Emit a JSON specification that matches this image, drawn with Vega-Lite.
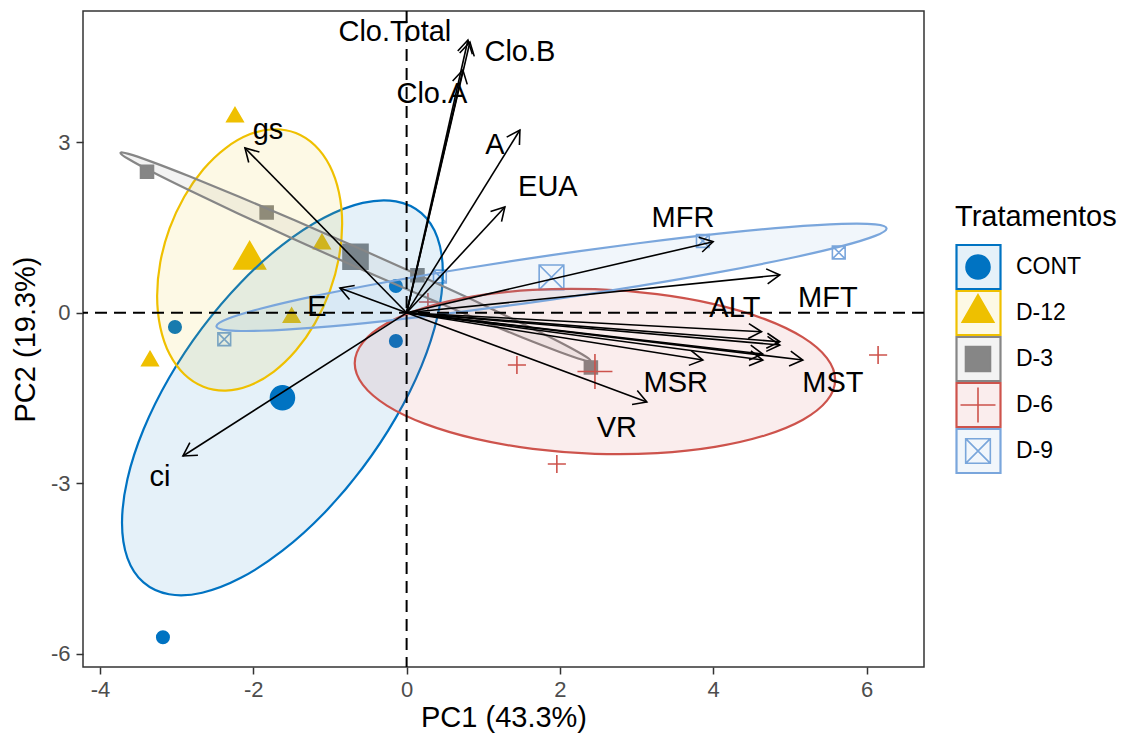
{
"$schema":"https://vega.github.io/schema/vega-lite/v6.json",
"width":841,"height":656,
"autosize":{"type":"none"},
"padding":{"left":83,"top":11,"right":201,"bottom":68},
"background":"white",
"config":{"view":{"stroke":"#333333","strokeWidth":1.5},"font":"Liberation Sans"},
"datasets":{
"pts":[
{"g":"CONT","t":"obs","x":-3.022,"y":-0.25},{"g":"CONT","t":"obs","x":-0.14,"y":0.472},{"g":"CONT","t":"obs","x":-0.14,"y":-0.496},{"g":"CONT","t":"obs","x":-3.179,"y":-5.71},
{"g":"D-12","t":"obs","x":-2.239,"y":3.445},{"g":"D-12","t":"obs","x":-3.348,"y":-0.848},{"g":"D-12","t":"obs","x":-1.105,"y":1.211},{"g":"D-12","t":"obs","x":-1.5,"y":-0.083},
{"g":"D-3","t":"obs","x":-3.387,"y":2.483},{"g":"D-3","t":"obs","x":-1.826,"y":1.765},{"g":"D-3","t":"obs","x":0.141,"y":0.66},{"g":"D-3","t":"obs","x":2.404,"y":-0.963},
{"g":"D-6","t":"obs","x":0.278,"y":0.19},{"g":"D-6","t":"obs","x":1.439,"y":-0.919},{"g":"D-6","t":"obs","x":1.96,"y":-2.661},{"g":"D-6","t":"obs","x":6.151,"y":-0.743},
{"g":"D-9","t":"obs","x":-2.379,"y":-0.466},{"g":"D-9","t":"obs","x":0.434,"y":0.639},{"g":"D-9","t":"obs","x":3.865,"y":1.263},{"g":"D-9","t":"obs","x":5.638,"y":1.061},
{"g":"CONT","t":"mean","x":-1.62,"y":-1.496},{"g":"D-12","t":"mean","x":-2.048,"y":0.931},{"g":"D-3","t":"mean","x":-0.667,"y":0.986},{"g":"D-6","t":"mean","x":2.457,"y":-1.033},{"g":"D-9","t":"mean","x":1.89,"y":0.624}
],
"ell":[
{"g":"CONT","i":0,"x":0.473,"y":0.702},{"g":"CONT","i":1,"x":0.402,"y":1.324},{"g":"CONT","i":2,"x":0.193,"y":1.753},{"g":"CONT","i":3,"x":-0.14,"y":1.961},{"g":"CONT","i":4,"x":-0.573,"y":1.934},{"g":"CONT","i":5,"x":-1.078,"y":1.672},{"g":"CONT","i":6,"x":-1.62,"y":1.195},{"g":"CONT","i":7,"x":-2.162,"y":0.535},{"g":"CONT","i":8,"x":-2.667,"y":-0.265},{"g":"CONT","i":9,"x":-3.1,"y":-1.147},{"g":"CONT","i":10,"x":-3.433,"y":-2.054},{"g":"CONT","i":11,"x":-3.642,"y":-2.923},
{"g":"CONT","i":12,"x":-3.713,"y":-3.694},{"g":"CONT","i":13,"x":-3.642,"y":-4.316},{"g":"CONT","i":14,"x":-3.433,"y":-4.745},{"g":"CONT","i":15,"x":-3.1,"y":-4.953},{"g":"CONT","i":16,"x":-2.667,"y":-4.926},{"g":"CONT","i":17,"x":-2.162,"y":-4.664},{"g":"CONT","i":18,"x":-1.62,"y":-4.187},{"g":"CONT","i":19,"x":-1.078,"y":-3.527},{"g":"CONT","i":20,"x":-0.573,"y":-2.727},{"g":"CONT","i":21,"x":-0.14,"y":-1.845},{"g":"CONT","i":22,"x":0.193,"y":-0.938},{"g":"CONT","i":23,"x":0.402,"y":-0.069},
{"g":"D-12","i":0,"x":-0.841,"y":1.569},{"g":"D-12","i":1,"x":-0.883,"y":2.119},{"g":"D-12","i":2,"x":-1.003,"y":2.588},{"g":"D-12","i":3,"x":-1.195,"y":2.944},{"g":"D-12","i":4,"x":-1.445,"y":3.163},{"g":"D-12","i":5,"x":-1.736,"y":3.23},{"g":"D-12","i":6,"x":-2.048,"y":3.141},{"g":"D-12","i":7,"x":-2.36,"y":2.9},{"g":"D-12","i":8,"x":-2.651,"y":2.526},{"g":"D-12","i":9,"x":-2.901,"y":2.043},{"g":"D-12","i":10,"x":-3.093,"y":1.484},{"g":"D-12","i":11,"x":-3.214,"y":0.887},
{"g":"D-12","i":12,"x":-3.255,"y":0.293},{"g":"D-12","i":13,"x":-3.213,"y":-0.257},{"g":"D-12","i":14,"x":-3.093,"y":-0.726},{"g":"D-12","i":15,"x":-2.901,"y":-1.082},{"g":"D-12","i":16,"x":-2.651,"y":-1.301},{"g":"D-12","i":17,"x":-2.36,"y":-1.368},{"g":"D-12","i":18,"x":-2.048,"y":-1.279},{"g":"D-12","i":19,"x":-1.736,"y":-1.038},{"g":"D-12","i":20,"x":-1.445,"y":-0.664},{"g":"D-12","i":21,"x":-1.195,"y":-0.181},{"g":"D-12","i":22,"x":-1.003,"y":0.378},{"g":"D-12","i":23,"x":-0.882,"y":0.975},
{"g":"D-3","i":0,"x":2.399,"y":-0.842},{"g":"D-3","i":1,"x":2.294,"y":-0.734},{"g":"D-3","i":2,"x":1.988,"y":-0.509},{"g":"D-3","i":3,"x":1.501,"y":-0.183},{"g":"D-3","i":4,"x":0.866,"y":0.224},{"g":"D-3","i":5,"x":0.126,"y":0.682},{"g":"D-3","i":6,"x":-0.667,"y":1.161},{"g":"D-3","i":7,"x":-1.46,"y":1.628},{"g":"D-3","i":8,"x":-2.2,"y":2.052},{"g":"D-3","i":9,"x":-2.835,"y":2.402},{"g":"D-3","i":10,"x":-3.322,"y":2.656},{"g":"D-3","i":11,"x":-3.628,"y":2.797},
{"g":"D-3","i":12,"x":-3.733,"y":2.814},{"g":"D-3","i":13,"x":-3.628,"y":2.706},{"g":"D-3","i":14,"x":-3.322,"y":2.481},{"g":"D-3","i":15,"x":-2.835,"y":2.155},{"g":"D-3","i":16,"x":-2.2,"y":1.748},{"g":"D-3","i":17,"x":-1.46,"y":1.29},{"g":"D-3","i":18,"x":-0.667,"y":0.811},{"g":"D-3","i":19,"x":0.126,"y":0.344},{"g":"D-3","i":20,"x":0.866,"y":-0.08},{"g":"D-3","i":21,"x":1.501,"y":-0.43},{"g":"D-3","i":22,"x":1.988,"y":-0.684},{"g":"D-3","i":23,"x":2.294,"y":-0.825},
{"g":"D-6","i":0,"x":5.591,"y":-1.177},{"g":"D-6","i":1,"x":5.484,"y":-0.797},{"g":"D-6","i":2,"x":5.171,"y":-0.433},{"g":"D-6","i":3,"x":4.673,"y":-0.111},{"g":"D-6","i":4,"x":4.024,"y":0.149},{"g":"D-6","i":5,"x":3.268,"y":0.328},{"g":"D-6","i":6,"x":2.457,"y":0.415},{"g":"D-6","i":7,"x":1.646,"y":0.403},{"g":"D-6","i":8,"x":0.89,"y":0.293},{"g":"D-6","i":9,"x":0.241,"y":0.092},{"g":"D-6","i":10,"x":-0.257,"y":-0.185},{"g":"D-6","i":11,"x":-0.57,"y":-0.52},
{"g":"D-6","i":12,"x":-0.677,"y":-0.889},{"g":"D-6","i":13,"x":-0.57,"y":-1.269},{"g":"D-6","i":14,"x":-0.257,"y":-1.633},{"g":"D-6","i":15,"x":0.241,"y":-1.955},{"g":"D-6","i":16,"x":0.89,"y":-2.215},{"g":"D-6","i":17,"x":1.646,"y":-2.394},{"g":"D-6","i":18,"x":2.457,"y":-2.481},{"g":"D-6","i":19,"x":3.268,"y":-2.469},{"g":"D-6","i":20,"x":4.024,"y":-2.359},{"g":"D-6","i":21,"x":4.673,"y":-2.158},{"g":"D-6","i":22,"x":5.171,"y":-1.881},{"g":"D-6","i":23,"x":5.484,"y":-1.546},
{"g":"D-9","i":0,"x":6.262,"y":1.484},{"g":"D-9","i":1,"x":6.113,"y":1.556},{"g":"D-9","i":2,"x":5.677,"y":1.564},{"g":"D-9","i":3,"x":4.982,"y":1.509},{"g":"D-9","i":4,"x":4.076,"y":1.393},{"g":"D-9","i":5,"x":3.022,"y":1.224},{"g":"D-9","i":6,"x":1.89,"y":1.015},{"g":"D-9","i":7,"x":0.758,"y":0.779},{"g":"D-9","i":8,"x":-0.296,"y":0.533},{"g":"D-9","i":9,"x":-1.202,"y":0.293},{"g":"D-9","i":10,"x":-1.897,"y":0.075},{"g":"D-9","i":11,"x":-2.333,"y":-0.106},
{"g":"D-9","i":12,"x":-2.482,"y":-0.236},{"g":"D-9","i":13,"x":-2.333,"y":-0.308},{"g":"D-9","i":14,"x":-1.897,"y":-0.316},{"g":"D-9","i":15,"x":-1.202,"y":-0.261},{"g":"D-9","i":16,"x":-0.296,"y":-0.145},{"g":"D-9","i":17,"x":0.758,"y":0.024},{"g":"D-9","i":18,"x":1.89,"y":0.233},{"g":"D-9","i":19,"x":3.022,"y":0.469},{"g":"D-9","i":20,"x":4.076,"y":0.715},{"g":"D-9","i":21,"x":4.982,"y":0.955},{"g":"D-9","i":22,"x":5.677,"y":1.173},{"g":"D-9","i":23,"x":6.113,"y":1.354}
],
"arr":[
{"v":"Clo.Total","x":0.8,"y":4.8,"a":12.7},{"v":"Clo.B","x":0.826,"y":4.765,"a":13.2},{"v":"Clo.A","x":0.734,"y":4.272,"a":13.05},
{"v":"A","x":1.478,"y":3.217,"a":31.8},{"v":"EUA","x":1.282,"y":1.862,"a":42.9},{"v":"MFR","x":3.999,"y":1.251,"a":76.9},{"v":"MFT","x":4.869,"y":0.665,"a":84.2},
{"v":"ALT","x":4.63,"y":-0.333,"a":93.0},{"v":"R2","x":4.869,"y":-0.509,"a":94.4},{"v":"R3","x":4.869,"y":-0.567,"a":94.9},{"v":"R4","x":4.647,"y":-0.725,"a":96.6},{"v":"R5","x":4.647,"y":-0.831,"a":97.5},
{"v":"MST","x":5.169,"y":-0.831,"a":96.8},{"v":"MSR","x":3.865,"y":-0.831,"a":99.1},{"v":"VR","x":3.134,"y":-1.57,"a":110.4},
{"v":"gs","x":-2.109,"y":2.9,"a":315.5},{"v":"E","x":-0.87,"y":0.436,"a":290.4},{"v":"ci","x":-2.918,"y":-2.52,"a":237.4}
],
"lab":[
{"v":"Clo.Total","x":-0.153,"y":4.94},{"v":"Clo.B","x":1.478,"y":4.59},{"v":"Clo.A","x":0.33,"y":3.85},{"v":"A","x":1.152,"y":2.95},{"v":"EUA","x":1.843,"y":2.21},
{"v":"MFR","x":3.606,"y":1.668},{"v":"MFT","x":5.496,"y":0.26},{"v":"ALT","x":4.282,"y":0.084},{"v":"MSR","x":3.512,"y":-1.235},{"v":"MST","x":5.561,"y":-1.235},
{"v":"VR","x":2.743,"y":-2.027},{"v":"gs","x":-1.809,"y":3.217},{"v":"E","x":-1.17,"y":0.102},{"v":"ci","x":-3.218,"y":-2.89}
]
},
"layer":[
{"data":{"name":"pts"},
 "mark":{"type":"point","strokeWidth":1.6,"opacity":1},
 "encoding":{
  "x":{"field":"x","type":"quantitative","scale":{"domain":[-4.222,6.75],"nice":false,"zero":false},
       "axis":{"values":[-4,-2,0,2,4,6],"labelExpr":"'' + datum.value","title":"PC1 (43.3%)","grid":false,"domain":false,"tickColor":"#333333","tickWidth":1.5,"tickSize":7,"labelFontSize":22,"labelColor":"#4D4D4D","labelPadding":5,"titleFontSize":29,"titleFontWeight":"normal","titleColor":"black","titlePadding":3,"labelFont":"Liberation Sans","titleFont":"Liberation Sans"}},
  "y":{"field":"y","type":"quantitative","scale":{"domain":[-6.233,5.311],"nice":false,"zero":false},
       "axis":{"values":[-6,-3,0,3],"labelExpr":"'' + datum.value","title":"PC2 (19.3%)","grid":false,"domain":false,"tickColor":"#333333","tickWidth":1.5,"tickSize":7,"labelFontSize":22,"labelColor":"#4D4D4D","labelPadding":6,"titleFontSize":29,"titleFontWeight":"normal","titleColor":"black","titlePadding":10,"labelFont":"Liberation Sans","titleFont":"Liberation Sans"}},
  "shape":{"field":"g","type":"nominal","scale":{"domain":["CONT","D-12","D-3","D-6","D-9"],"range":["M0.545,0A0.545,0.545,0,1,1,-0.545,0A0.545,0.545,0,1,1,0.545,0Z","M0,-0.832L0.72,0.416L-0.72,0.416Z","M-0.568,-0.568L0.568,-0.568L0.568,0.568L-0.568,0.568Z","M-0.795,0L0.795,0M0,-0.795L0,0.795","M-0.56,-0.56L0.56,-0.56L0.56,0.56L-0.56,0.56ZM-0.56,-0.56L0.56,0.56M-0.56,0.56L0.56,-0.56"]},
     "legend":{"orient":"none","legendX":872,"legendY":192,"title":"Tratamentos","titleColor":"transparent","labelColor":"transparent","titleFontSize":29,"titleFontWeight":"normal","titleFont":"Liberation Sans","labelFont":"Liberation Sans","labelFontSize":23,"symbolSize":1936,"rowPadding":0,"clipHeight":46,"labelOffset":14,"titlePadding":12,"symbolStrokeWidth":1.6}},
  "stroke":{"field":"g","type":"nominal","scale":{"domain":["CONT","D-12","D-3","D-6","D-9"],"range":["#0073C2","#EFC000","#868686","#CD534C","#7AA6DC"]},
     "legend":{"orient":"none","legendX":872,"legendY":192,"title":"Tratamentos","titleColor":"transparent","labelColor":"transparent","titleFontSize":29,"titleFontWeight":"normal","titleFont":"Liberation Sans","labelFont":"Liberation Sans","labelFontSize":23,"symbolSize":1936,"rowPadding":0,"clipHeight":46,"labelOffset":14,"titlePadding":12,"symbolStrokeWidth":1.6}},
  "fill":{"field":"g","type":"nominal","scale":{"domain":["CONT","D-12","D-3","D-6","D-9"],"range":["#0073C2","#EFC000","#868686","transparent","transparent"]},
     "legend":{"orient":"none","legendX":872,"legendY":192,"title":"Tratamentos","titleColor":"transparent","labelColor":"transparent","titleFontSize":29,"titleFontWeight":"normal","titleFont":"Liberation Sans","labelFont":"Liberation Sans","labelFontSize":23,"symbolSize":1936,"rowPadding":0,"clipHeight":46,"labelOffset":14,"titlePadding":12,"symbolStrokeWidth":1.6}},
  "size":{"field":"t","type":"ordinal","scale":{"domain":["obs","mean"],"range":[520,1936]},"legend":null}
 }},
{"data":{"name":"ell"},
 "mark":{"type":"line","interpolate":"cardinal-closed","fillOpacity":0.1,"strokeWidth":2.2},
 "encoding":{
  "x":{"field":"x","type":"quantitative"},
  "y":{"field":"y","type":"quantitative"},
  "order":{"field":"i","type":"quantitative"},
  "stroke":{"field":"g","type":"nominal","scale":{"domain":["CONT","D-12","D-3","D-6","D-9"],"range":["#0073C2","#EFC000","#868686","#CD534C","#7AA6DC"]},
     "legend":{"orient":"none","legendX":872,"legendY":192,"title":"Tratamentos","titleColor":"black","labelColor":"black","titleFontSize":29,"titleFontWeight":"normal","titleFont":"Liberation Sans","labelFont":"Liberation Sans","labelFontSize":23,"symbolType":"square","symbolSize":1936,"rowPadding":0,"clipHeight":46,"labelOffset":14,"titlePadding":12,"symbolStrokeWidth":2.2,"symbolOpacity":1,"encode":{"symbols":{"update":{"fillOpacity":{"value":0.1},"strokeOpacity":{"value":1}}}}}},
  "fill":{"field":"g","type":"nominal","scale":{"domain":["CONT","D-12","D-3","D-6","D-9"],"range":["#0073C2","#EFC000","#868686","#CD534C","#7AA6DC"]},
     "legend":{"orient":"none","legendX":872,"legendY":192,"title":"Tratamentos","titleColor":"black","labelColor":"black","titleFontSize":29,"titleFontWeight":"normal","titleFont":"Liberation Sans","labelFont":"Liberation Sans","labelFontSize":23,"symbolType":"square","symbolSize":1936,"rowPadding":0,"clipHeight":46,"labelOffset":14,"titlePadding":12,"symbolStrokeWidth":2.2,"symbolOpacity":1,"encode":{"symbols":{"update":{"fillOpacity":{"value":0.1},"strokeOpacity":{"value":1}}}}}}
 }},
{"data":{"values":[{}]},"mark":{"type":"rule","strokeDash":[12,7],"strokeWidth":2,"color":"black"},"encoding":{"y":{"datum":0,"type":"quantitative"}}},
{"data":{"values":[{}]},"mark":{"type":"rule","strokeDash":[12,7],"strokeWidth":2,"color":"black"},"encoding":{"x":{"datum":0,"type":"quantitative"}}},
{"data":{"name":"arr"},
 "mark":{"type":"rule","strokeWidth":1.6,"color":"black"},
 "encoding":{"x":{"field":"x","type":"quantitative"},"y":{"field":"y","type":"quantitative"},"x2":{"datum":0},"y2":{"datum":0}}},
{"data":{"name":"arr"},
 "mark":{"type":"point","shape":"M-0.5,0.866L0,0L0.5,0.866","filled":false,"size":900,"strokeWidth":1.6,"color":"black","opacity":1},
 "encoding":{"x":{"field":"x","type":"quantitative"},"y":{"field":"y","type":"quantitative"},"angle":{"field":"a","type":"quantitative","scale":null}}},
{"data":{"name":"lab"},
 "mark":{"type":"text","fontSize":29,"font":"Liberation Sans","color":"black","align":"center","baseline":"middle"},
 "encoding":{"x":{"field":"x","type":"quantitative"},"y":{"field":"y","type":"quantitative"},"text":{"field":"v"}}}
],
"resolve":{"scale":{"fill":"independent","stroke":"independent","shape":"independent"}}
}
